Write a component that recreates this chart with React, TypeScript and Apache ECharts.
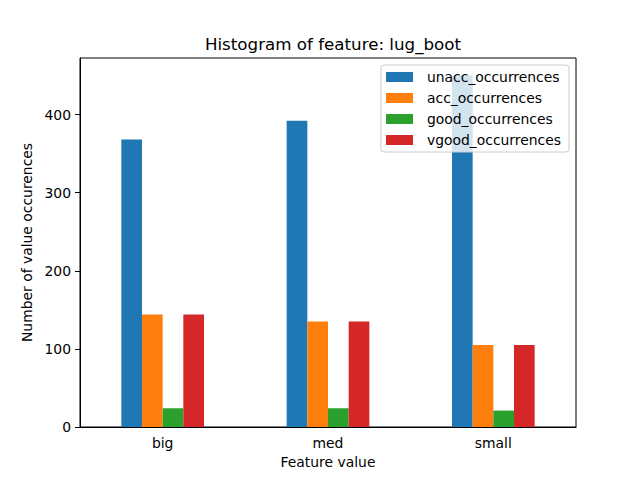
import React, { useEffect, useRef } from "react";
import * as echarts from "echarts";

const categories = ["big", "med", "small"];
const seriesNames = ["unacc_occurrences", "acc_occurrences", "good_occurrences", "vgood_occurrences"];
const unaccValues = [368, 392, 450];
const accValues = [144, 135, 105];
const goodValues = [24, 24, 21];
const vgoodValues = [144, 135, 105];
const colors = ["#1f77b4", "#ff7f0e", "#2ca02c", "#d62728"];
const yTicks = [0, 100, 200, 300, 400];

const FONT = "DejaVu Sans";

export default function App() {
  const ref = useRef<HTMLDivElement>(null);
  useEffect(() => {
    if (!ref.current) return;
    const chart = echarts.init(ref.current, undefined, { renderer: "svg" });
    const allValues = [unaccValues, accValues, goodValues, vgoodValues];
    const yMax = Math.max(...allValues.flat()) * 1.05;
    chart.setOption({
      animation: false,
      textStyle: { fontFamily: FONT },
      title: {
        text: "Histogram of feature: lug_boot",
        left: 328,
        top: 30,
        textAlign: "center",
        textStyle: { fontFamily: FONT, fontSize: 16.7, fontWeight: "normal", color: "#000" },
      },
      legend: {
        orient: "vertical",
        right: 71,
        top: 65,
        data: seriesNames,
        icon: "rect",
        itemWidth: 27,
        itemHeight: 10,
        itemGap: 7,
        padding: [5, 8, 5, 5],
        backgroundColor: "rgba(255,255,255,0.8)",
        borderColor: "#cccccc",
        borderWidth: 1,
        borderRadius: 3,
        textStyle: { fontFamily: FONT, fontSize: 13.9, color: "#000", padding: [0, 0, 0, 9] },
      },
      grid: {
        left: 80,
        right: 64,
        top: 58,
        bottom: 53,
        show: true,
        borderColor: "#000",
        borderWidth: 1,
        backgroundColor: "transparent",
      },
      xAxis: {
        type: "category",
        data: categories,
        name: "Feature value",
        nameLocation: "middle",
        nameGap: 28,
        nameTextStyle: { fontFamily: FONT, fontSize: 13.9, color: "#000" },
        axisLine: { lineStyle: { color: "#000" } },
        axisTick: { alignWithLabel: true, length: 5, lineStyle: { color: "#000" } },
        axisLabel: { fontFamily: FONT, fontSize: 13.9, color: "#000", margin: 9 },
      },
      yAxis: {
        type: "value",
        min: 0,
        max: yMax,
        interval: yTicks[1] - yTicks[0],
        name: "Number of value occurences",
        nameLocation: "middle",
        nameGap: 36,
        nameRotate: 90,
        nameTextStyle: { fontFamily: FONT, fontSize: 13.9, color: "#000" },
        axisLine: { show: true, lineStyle: { color: "#000" } },
        axisTick: { show: true, length: 5, lineStyle: { color: "#000" } },
        axisLabel: { fontFamily: FONT, fontSize: 13.9, color: "#000", margin: 9, showMaxLabel: false },
        splitLine: { show: false },
      },
      series: seriesNames.map((name, i) => ({
        name,
        type: "bar",
        data: allValues[i],
        barWidth: "12.5%",
        barGap: "0%",
        itemStyle: { color: colors[i] },
      })),
    });
    return () => chart.dispose();
  }, []);
  return <div ref={ref} style={{ width: 640, height: 480, position: "absolute", left: 0, top: 0 }} />;
}
